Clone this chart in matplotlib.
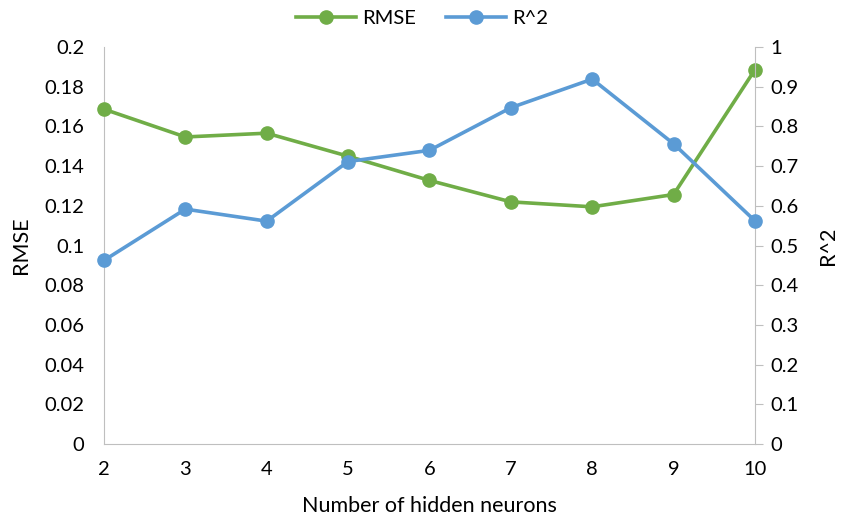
import matplotlib
matplotlib.use("Agg")
import matplotlib.pyplot as plt

neurons = [2, 3, 4, 5, 6, 7, 8, 9, 10]
rmse = [0.1687, 0.1547, 0.1566, 0.1450, 0.1328, 0.1220, 0.1195, 0.1257, 0.1886]
r2 = [0.4625, 0.5917, 0.5614, 0.7116, 0.7398, 0.8472, 0.9192, 0.7563, 0.5621]
rmse_ticks = [0, 0.02, 0.04, 0.06, 0.08, 0.1, 0.12, 0.14, 0.16, 0.18, 0.2]
r2_ticks = [0, 0.1, 0.2, 0.3, 0.4, 0.5, 0.6, 0.7, 0.8, 0.9, 1]

plt.rcParams['font.family'] = ['Lato', 'DejaVu Sans']
green = '#70AD47'
blue = '#5B9BD5'
grey = '#BFBFBF'

fig = plt.figure(figsize=(8.44, 5.17), dpi=100)
ax = fig.add_axes([0.1232, 0.1412, 0.7713, 0.7678])
ax2 = ax.twinx()

l1, = ax.plot(neurons, rmse, color=green, lw=2.6, marker='o', ms=9.5, label='RMSE',
              zorder=3, clip_on=False)
l2, = ax2.plot(neurons, r2, color=blue, lw=2.6, marker='o', ms=9.5, label='R^2',
               zorder=3, clip_on=False)

ax.set_xlim(2, 10)
ax.set_ylim(0, 0.2)
ax2.set_ylim(0, 1)
ax.set_xticks(neurons)
ax.set_yticks(rmse_ticks)
ax.set_yticklabels([f"{t:g}" for t in rmse_ticks])
ax2.set_yticks(r2_ticks)
ax2.set_yticklabels([f"{t:g}" for t in r2_ticks])

for a in (ax, ax2):
    for s in a.spines.values():
        s.set_visible(False)
ax.spines['left'].set_visible(True)
ax.spines['left'].set_color(grey)
ax.spines['bottom'].set_visible(True)
ax.spines['bottom'].set_color(grey)
ax2.spines['right'].set_visible(True)
ax2.spines['right'].set_color(grey)

ax.tick_params(axis='y', length=0, labelsize=14.5, pad=14)
ax.tick_params(axis='x', length=0, labelsize=14.5, pad=12)
ax2.tick_params(axis='y', length=6, color=grey, labelsize=14.5, pad=5)

ax.set_xlabel('Number of hidden neurons', fontsize=15.5, labelpad=13)
ax.set_ylabel('RMSE', fontsize=15.5, labelpad=10)
ax2.set_ylabel('R^2', fontsize=15.5, labelpad=14)

fig.legend(handles=[l1, l2], loc='upper center', bbox_to_anchor=(0.5, 1.015), ncol=2,
           frameon=False, fontsize=14.5, handlelength=3, columnspacing=1.5, handletextpad=0.3)

fig.savefig('out.png', dpi=100)
